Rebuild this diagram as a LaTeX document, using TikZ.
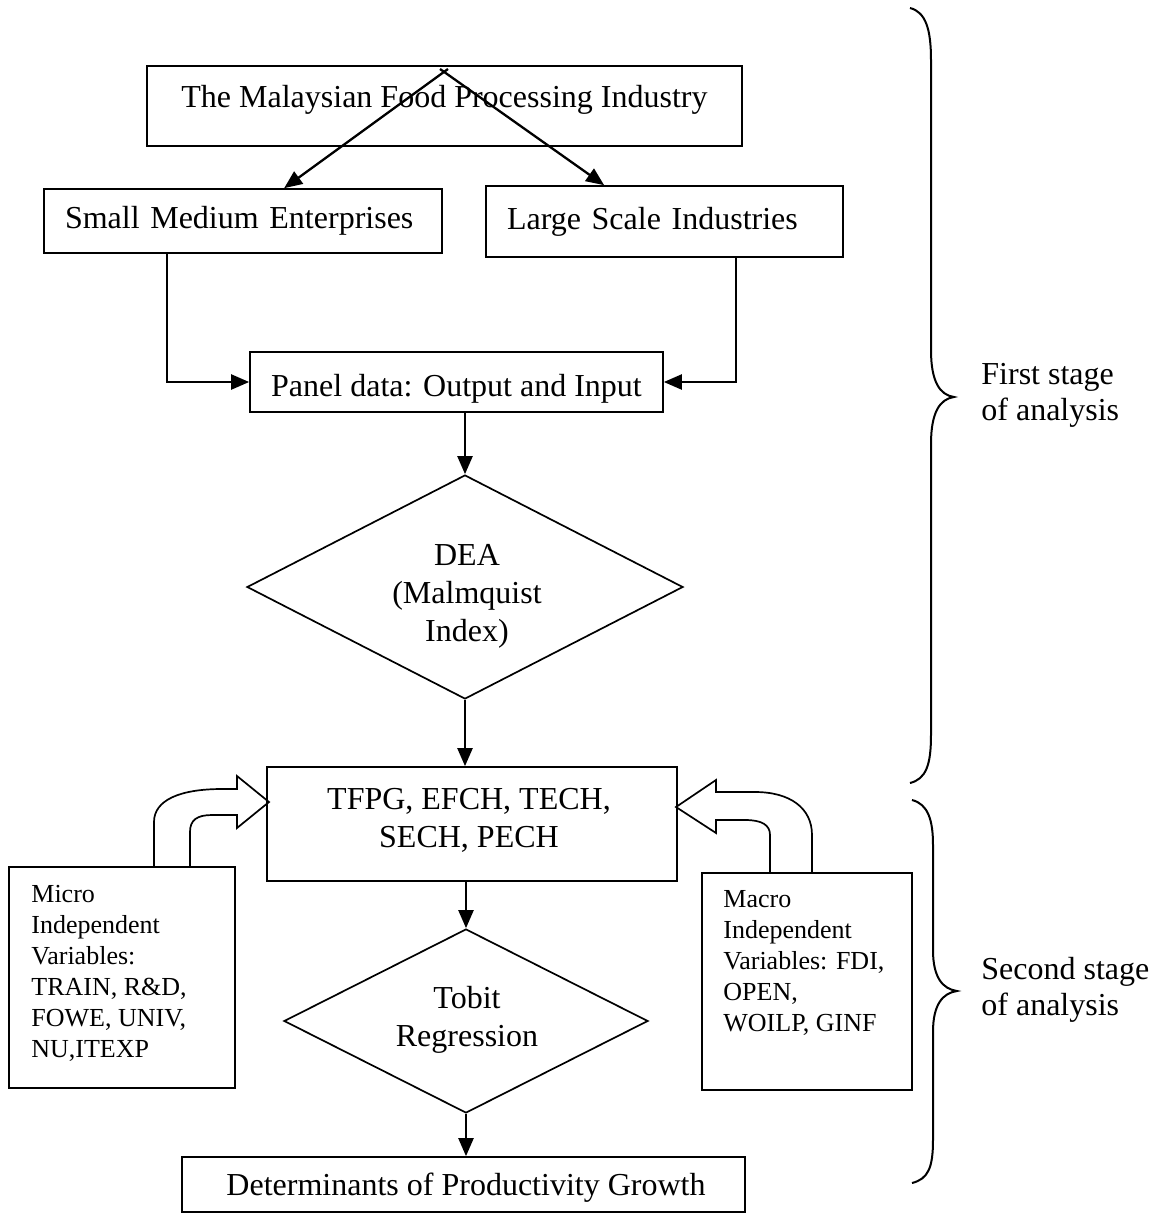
\documentclass[tikz,border=0pt]{standalone}
\usepackage{fontspec}
\setmainfont{Liberation Serif}
\usetikzlibrary{shapes.geometric,arrows.meta}
\begin{document}
\begin{tikzpicture}[x=0.5pt,y=-0.5pt,
  box/.style={draw,line width=0.85pt,inner sep=0pt,font=\fontsize{16}{19}\selectfont},
  leftbox/.style={box,align=left,inner xsep=10.5pt},
  decision/.style={diamond,draw,line width=0.85pt,inner sep=0pt},
  maintext/.style={align=center,inner sep=0pt,font=\fontsize{16}{19}\selectfont},
  smalltext/.style={align=left,inner sep=0pt,anchor=north west,font=\fontsize{13}{15.5}\selectfont},
  stagetext/.style={align=left,inner sep=0pt,anchor=west,font=\fontsize{16}{18}\selectfont},
  arr/.style={line width=1.15pt,-{Triangle[length=9pt,width=7.5pt]}},
  blockarrow/.style={draw,line width=0.85pt,line join=miter},
  brace/.style={draw,line width=1pt}]
\useasboundingbox (0,0) rectangle (1158,1222);

% boxes of the first stage
\node[box,minimum width=297.5pt,minimum height=40pt] (top) at (444.5,106) {};
\node[maintext] (toptext) at (444.5,100) {The Malaysian Food Processing Industry};
\node[leftbox,text width=178pt,minimum height=32pt] (sme) at (243,221)
  {Small Medium Enterprises};
\node[leftbox,text width=157.5pt,minimum height=35.5pt] (large) at (664.5,221.5)
  {Large Scale Industries};
\node[box,minimum width=206.5pt,minimum height=30pt] (panel) at (456.5,382) {};
\node[maintext] (paneltext) at (456.5,389) {Panel data: Output and Input};
\node[decision,minimum width=218pt,minimum height=112pt] (dea) at (465,587) {};
\node[maintext] (deatext) at (467,596) {DEA\\(Malmquist\\Index)};

% boxes of the second stage
\node[box,minimum width=205pt,minimum height=57pt] (tfpg) at (472,824) {};
\node[maintext] (tfpgtext) at (469,820) {TFPG, EFCH, TECH,\\SECH, PECH};
\node[decision,minimum width=182pt,minimum height=92pt] (tobit) at (466,1021) {};
\node[maintext] (tobittext) at (467,1020) {Tobit\\Regression};
\node[box,minimum width=281.5pt,minimum height=27.5pt] (final) at (463.5,1184.5) {};
\node[maintext] (finaltext) at (466,1188) {Determinants of Productivity Growth};

\node[box,minimum width=113pt,minimum height=110.5pt] (micro) at (122,977.5) {};
\node[smalltext] (microtext) at (31,885)
  {Micro\\Independent\\Variables:\\TRAIN, R\&D,\\FOWE, UNIV,\\NU,ITEXP};
\node[box,minimum width=105pt,minimum height=108.5pt] (macro) at (807,981.5) {};
\node[smalltext] (macrotext) at (723,890)
  {Macro\\Independent\\Variables: FDI,\\OPEN,\\WOILP, GINF};

% connectors
\coordinate (forkL) at (448,69);
\coordinate (forkR) at (440,69);
\draw[arr] (forkL) -- ([xshift=120.5pt]sme.north west);
\draw[arr] (forkR) -- ([xshift=59.5pt]large.north west);
\draw[arr] ([xshift=62pt]sme.south west) |- (panel.west);
\draw[arr] ([xshift=125.5pt]large.south west) |- (panel.east);
\draw[arr] (panel.south -| dea.north) -- (dea.north);
\draw[arr] (dea.south) -- (dea.south |- tfpg.north);
\draw[arr] (tobit.north |- tfpg.south) -- (tobit.north);
\draw[arr] (tobit.south) -- (tobit.south |- final.north);

% curved block arrows feeding the TFPG box
\path[blockarrow] (154,867) -- (154,822)
  .. controls (154,800) and (180,789) .. (222,789) -- (237,789) -- (237,776)
  -- (269,802) -- (237,828) -- (237,815) -- (212,815)
  .. controls (197,815) and (190,820) .. (190,832) -- (190,867);
\path[blockarrow] (812,873) -- (812,835)
  .. controls (812,808) and (790,792) .. (755,792) -- (716,792) -- (716,780)
  -- (676,807) -- (716,833) -- (716,820) -- (745,820)
  .. controls (762,820) and (770,825) .. (770,835) -- (770,873);

% braces marking the two stages
\path[brace] (910,8) .. controls (926,12) and (931,30) .. (931,60) -- (931,350)
  .. controls (931,382) and (940,395) .. (954,397)
  .. controls (940,399) and (931,412) .. (931,444) -- (931,735)
  .. controls (931,765) and (926,779) .. (910,783);
\path[brace] (912,800) .. controls (928,804) and (933,820) .. (933,845) -- (933,950)
  .. controls (933,978) and (943,989) .. (957,991)
  .. controls (943,993) and (933,1004) .. (933,1032) -- (933,1140)
  .. controls (933,1168) and (928,1179) .. (912,1183);
\node[stagetext] (first) at (981,395) {First stage\\of analysis};
\node[stagetext] (second) at (981,990) {Second stage\\of analysis};
\end{tikzpicture}
\end{document}
